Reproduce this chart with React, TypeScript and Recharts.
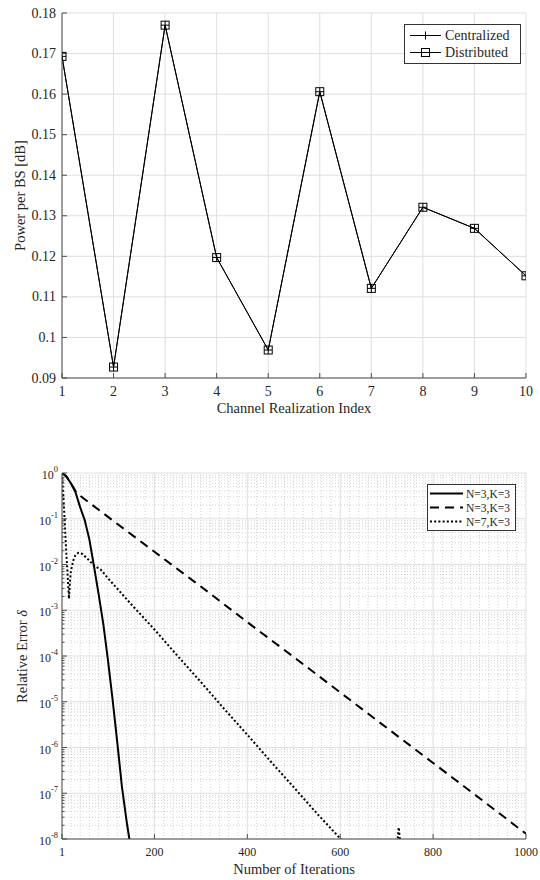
import React from 'react';
import { LineChart, Line, XAxis, YAxis, CartesianGrid, ReferenceLine, Legend } from 'recharts';

// ---- top chart: power per BS vs channel realization
const channelIndex = [1, 2, 3, 4, 5, 6, 7, 8, 9, 10];
const centralizedPower = [0.1693, 0.0927, 0.177, 0.1197, 0.0969, 0.1606, 0.1121, 0.1321, 0.1269, 0.1152];
const distributedPower = [0.1693, 0.0927, 0.177, 0.1197, 0.0969, 0.1606, 0.1121, 0.1321, 0.1269, 0.1152];
const powerTicks = [0.09, 0.1, 0.11, 0.12, 0.13, 0.14, 0.15, 0.16, 0.17, 0.18];

// ---- bottom chart: relative error vs iterations
const solidIter = [1, 10, 20, 30, 40, 50, 60, 70, 80, 90, 100, 110, 120, 130, 140, 146, 150];
const solidErr = [1, 0.85, 0.6, 0.38, 0.18, 0.093, 0.035, 0.009, 0.0022, 5e-4, 8e-5, 1.1e-5, 1.3e-6, 1.4e-7, 2.5e-8, 1e-8, 5e-9];

const dashedIter = [1, 10, 20, 33, 100, 200, 300, 400, 500, 600, 700, 800, 900, 1000];
const dashedErr = [1, 0.85, 0.6, 0.36, 0.11, 0.019, 0.0033, 5.5e-4, 9.5e-5, 1.6e-5, 2.7e-6, 4.6e-7, 7.8e-8, 1.3e-8];

const dottedIter = [1, 4, 7, 10, 13, 16, 18, 20, 25, 30, 36, 45, 57, 70, 85, 100, 125, 150, 200, 250, 300, 350, 400, 450, 500, 550, 601, 612, 720, 726, 732];
const dottedErr = [1, 0.3, 0.08, 0.02, 0.006, 0.0018, 0.004, 0.007, 0.012, 0.016, 0.018, 0.017, 0.013, 0.0095, 0.0076, 0.005, 0.0026, 0.00135, 3.8e-4, 1e-4, 2.7e-5, 7e-6, 1.9e-6, 5e-7, 1.35e-7, 3.6e-8, 1e-8, 5e-9, 4e-9, 1.8e-8, 4e-9];

const iterTicks = [1, 200, 400, 600, 800, 1000];
const errDecades = [1e-8, 1e-7, 1e-6, 1e-5, 1e-4, 1e-3, 1e-2, 1e-1, 1];

const FONT = "'Liberation Serif', 'Times New Roman', serif";
const AXIS = '#4d4d4d';
const TXT = '#262626';
const GRID = '#dfdfdf';
const MINOR_GRID = '#c8c8c8';

const powerRows = channelIndex.map((c, i) => ({ idx: c, centralized: centralizedPower[i], distributed: distributedPower[i] }));
const toRows = (xs: number[], ys: number[]) => xs.map((x, i) => ({ it: x, err: ys[i] }));

const errSeries = [
  { name: 'N=3,K=3', rows: toRows(solidIter, solidErr), dash: undefined as string | undefined },
  { name: 'N=3,K=3 ', rows: toRows(dashedIter, dashedErr), dash: '9 6' },
  { name: 'N=7,K=3', rows: toRows(dottedIter, dottedErr), dash: '2 2.2' },
];

// minor grid positions
const iterMinor: number[] = [];
for (let v = 20; v < 1000; v += 20) if (v % 200 !== 0) iterMinor.push(v);
const errMinor: number[] = [];
for (let e = -8; e < 0; e++) for (let k = 2; k <= 9; k++) errMinor.push(k * Math.pow(10, e));
const errAllTicks = [...errDecades, ...errMinor].sort((a, b) => a - b);

const isMinorLog = (v: number) => Math.abs(Math.log10(v) - Math.round(Math.log10(v))) > 1e-6;

const textStyle: React.CSSProperties = { fontFamily: FONT };

type Side = 'bottom' | 'top' | 'left' | 'right';

// MATLAB-style inward tick marks; label drawn only for major ticks
function inwardTick(side: Side, label?: (x: number, y: number, v: number) => React.ReactNode, isMinor?: (v: number) => boolean) {
  return (props: any) => {
    const { x, y, payload, index } = props;
    const v = payload.value;
    const minor = isMinor ? isMinor(v) : false;
    const len = minor ? 2.5 : 5;
    let x2 = x;
    let y2 = y;
    if (side === 'bottom') y2 = y - len;
    if (side === 'top') y2 = y + len;
    if (side === 'left') x2 = x + len;
    if (side === 'right') x2 = x - len;
    return (
      <g key={`${side}-${index}`}>
        <line x1={x} y1={y} x2={x2} y2={y2} stroke={AXIS} strokeWidth={1} />
        {label && !minor ? label(x, y, v) : null}
      </g>
    );
  };
}

const powerFmt = (v: number) => String(Number(v.toFixed(2)));

function PlusDot(props: any) {
  const { cx, cy, index } = props;
  return <path key={`p-${index}`} d={`M${cx - 4},${cy}H${cx + 4}M${cx},${cy - 4}V${cy + 4}`} stroke="#000" strokeWidth={1} fill="none" />;
}

function SquareDot(props: any) {
  const { cx, cy, index } = props;
  return <rect key={`s-${index}`} x={cx - 4} y={cy - 4} width={8} height={8} stroke="#000" strokeWidth={1} fill="none" />;
}

function PowerLegend() {
  return (
    <svg width={117} height={40} style={{ display: 'block' }}>
      <rect x={0.5} y={0.5} width={116} height={39} fill="#fff" stroke="#333" strokeWidth={1} />
      <line x1={6} x2={37} y1={11.5} y2={11.5} stroke="#000" />
      <path d="M21.5,7.5V15.5M17.5,11.5H25.5" stroke="#000" fill="none" />
      <text x={41} y={11.5} dominantBaseline="central" fontSize={14} fill={TXT} style={textStyle}>Centralized</text>
      <line x1={6} x2={37} y1={28.5} y2={28.5} stroke="#000" />
      <rect x={17.5} y={24.5} width={8} height={8} stroke="#000" fill="none" />
      <text x={41} y={28.5} dominantBaseline="central" fontSize={14} fill={TXT} style={textStyle}>Distributed</text>
    </svg>
  );
}

function ErrorLegend() {
  return (
    <svg width={89} height={47} style={{ display: 'block' }}>
      <rect x={0.5} y={0.5} width={88} height={46} fill="#fff" stroke="#333" strokeWidth={1} />
      {errSeries.map((s, i) => (
        <g key={s.name}>
          <line x1={3} x2={36} y1={9.5 + i * 14} y2={9.5 + i * 14} stroke="#000" strokeWidth={2} strokeDasharray={s.dash} />
          <text x={39} y={9.5 + i * 14} dominantBaseline="central" fontSize={11.5} fill={TXT} style={textStyle}>{s.name.trim()}</text>
        </g>
      ))}
    </svg>
  );
}

function PowerChart() {
  return (
    <LineChart width={540} height={420} data={powerRows} margin={{ top: 13, right: 14, bottom: 0, left: 12 }} style={textStyle}>
      <CartesianGrid xAxisId="b" yAxisId="l" stroke={GRID} strokeWidth={1} />
      <XAxis xAxisId="b" dataKey="idx" type="number" domain={[1, 10]} ticks={channelIndex} interval={0} allowDataOverflow
        height={42} tickSize={0} tickMargin={0} tickLine={false} axisLine={{ stroke: AXIS }}
        tick={inwardTick('bottom', (x, y, v) => (
          <text x={x} y={y + 13} textAnchor="middle" dominantBaseline="central" fontSize={14} fill={TXT} style={textStyle}>{v}</text>
        ))} />
      <XAxis xAxisId="t" orientation="top" dataKey="idx" type="number" domain={[1, 10]} ticks={channelIndex} interval={0} allowDataOverflow
        height={0} tickSize={0} tickMargin={0} tickLine={false} axisLine={{ stroke: AXIS }} tick={inwardTick('top')} />
      <YAxis yAxisId="l" type="number" domain={[0.09, 0.18]} ticks={powerTicks} interval={0} allowDataOverflow
        width={50} tickSize={0} tickMargin={0} tickLine={false} axisLine={{ stroke: AXIS }}
        tick={inwardTick('left', (x, y, v) => (
          <text x={x - 6} y={y} textAnchor="end" dominantBaseline="central" fontSize={14} fill={TXT} style={textStyle}>{powerFmt(v)}</text>
        ))} />
      <YAxis yAxisId="r" orientation="right" type="number" domain={[0.09, 0.18]} ticks={powerTicks} interval={0} allowDataOverflow
        width={0} tickSize={0} tickMargin={0} tickLine={false} axisLine={{ stroke: AXIS }} tick={inwardTick('right')} />
      <Line xAxisId="b" yAxisId="l" dataKey="centralized" name="Centralized" stroke="#000" strokeWidth={1} type="linear"
        dot={PlusDot} activeDot={false} isAnimationActive={false} />
      <Line xAxisId="b" yAxisId="l" dataKey="distributed" name="Distributed" stroke="#000" strokeWidth={1} type="linear"
        dot={SquareDot} activeDot={false} isAnimationActive={false} />
      <Legend layout="vertical" align="center" verticalAlign="middle" content={() => <PowerLegend />}
        wrapperStyle={{ position: 'absolute', left: 404, top: 24, width: 117, height: 40 }} />
    </LineChart>
  );
}

function ErrorChart() {
  return (
    <LineChart width={540} height={440} margin={{ top: 33, right: 14, bottom: 0, left: 12 }} style={textStyle}>
      {iterMinor.map((v) => (
        <ReferenceLine key={`vx-${v}`} xAxisId="b" yAxisId="l" x={v} stroke={MINOR_GRID} strokeWidth={0.8} strokeDasharray="1 2" zIndex={-100} />
      ))}
      {errMinor.map((v) => (
        <ReferenceLine key={`hy-${v}`} xAxisId="b" yAxisId="l" y={v} stroke={MINOR_GRID} strokeWidth={0.8} strokeDasharray="1 2" zIndex={-100} />
      ))}
      {iterTicks.map((v) => (
        <ReferenceLine key={`gx-${v}`} xAxisId="b" yAxisId="l" x={v} stroke={GRID} strokeWidth={1} zIndex={-90} />
      ))}
      {errDecades.map((v) => (
        <ReferenceLine key={`gy-${v}`} xAxisId="b" yAxisId="l" y={v} stroke={GRID} strokeWidth={1} zIndex={-90} />
      ))}
      <XAxis xAxisId="b" dataKey="it" type="number" domain={[1, 1000]} ticks={iterTicks} interval={0} allowDataOverflow
        height={41} tickSize={0} tickMargin={0} tickLine={false} axisLine={{ stroke: AXIS }}
        tick={inwardTick('bottom', (x, y, v) => (
          <text x={x} y={y + 13} textAnchor="middle" dominantBaseline="central" fontSize={12} fill={TXT} style={textStyle}>{v}</text>
        ))} />
      <XAxis xAxisId="t" orientation="top" dataKey="it" type="number" domain={[1, 1000]} ticks={iterTicks} interval={0} allowDataOverflow
        height={0} tickSize={0} tickMargin={0} tickLine={false} axisLine={{ stroke: AXIS }} tick={inwardTick('top')} />
      <YAxis yAxisId="l" type="number" scale="log" domain={[1e-8, 1]} ticks={errAllTicks} interval={0} allowDataOverflow
        width={50} tickSize={0} tickMargin={0} tickLine={false} axisLine={{ stroke: AXIS }}
        tick={inwardTick('left', (x, y, v) => (
          <text x={x - 4} y={y + 6} textAnchor="end" fontSize={12} fill={TXT} style={textStyle}>
            10<tspan dy={-7} fontSize={8.5}>{String(Math.round(Math.log10(v)))}</tspan>
          </text>
        ), isMinorLog)} />
      <YAxis yAxisId="r" orientation="right" type="number" scale="log" domain={[1e-8, 1]} ticks={errAllTicks} interval={0} allowDataOverflow
        width={0} tickSize={0} tickMargin={0} tickLine={false} axisLine={{ stroke: AXIS }} tick={inwardTick('right', undefined, isMinorLog)} />
      {errSeries.map((s) => (
        <Line key={s.name} xAxisId="b" yAxisId="l" data={s.rows} dataKey="err" name={s.name} type="linear"
          stroke="#000" strokeWidth={2} strokeDasharray={s.dash} dot={false} activeDot={false} isAnimationActive={false} />
      ))}
      <Legend layout="vertical" align="center" verticalAlign="middle" content={() => <ErrorLegend />}
        wrapperStyle={{ position: 'absolute', left: 427, top: 44, width: 89, height: 47 }} />
    </LineChart>
  );
}

const titleStyle: React.CSSProperties = {
  position: 'absolute', fontFamily: FONT, fontSize: 14.5, color: TXT, lineHeight: '17px', textAlign: 'center', whiteSpace: 'nowrap',
};

export default function App() {
  return (
    <div style={{ position: 'absolute', left: 0, top: 0, width: 540, height: 880, background: '#fff', overflow: 'hidden' }}>
      <div style={{ position: 'absolute', left: 0, top: 0 }}>
        <PowerChart />
      </div>
      <div style={{ position: 'absolute', left: 0, top: 440 }}>
        <ErrorChart />
      </div>
      <div style={{ ...titleStyle, left: 62, width: 464, top: 400 }}>Channel Realization Index</div>
      <div style={{ ...titleStyle, left: 62, width: 464, top: 861 }}>Number of Iterations</div>
      <div style={{ ...titleStyle, left: 20 - 150, top: 195 - 8.5, width: 300, transform: 'rotate(-90deg)' }}>Power per BS [dB]</div>
      <div style={{ ...titleStyle, left: 22 - 150, top: 656 - 8.5, width: 300, transform: 'rotate(-90deg)' }}>
        Relative Error <i>δ</i>
      </div>
    </div>
  );
}
